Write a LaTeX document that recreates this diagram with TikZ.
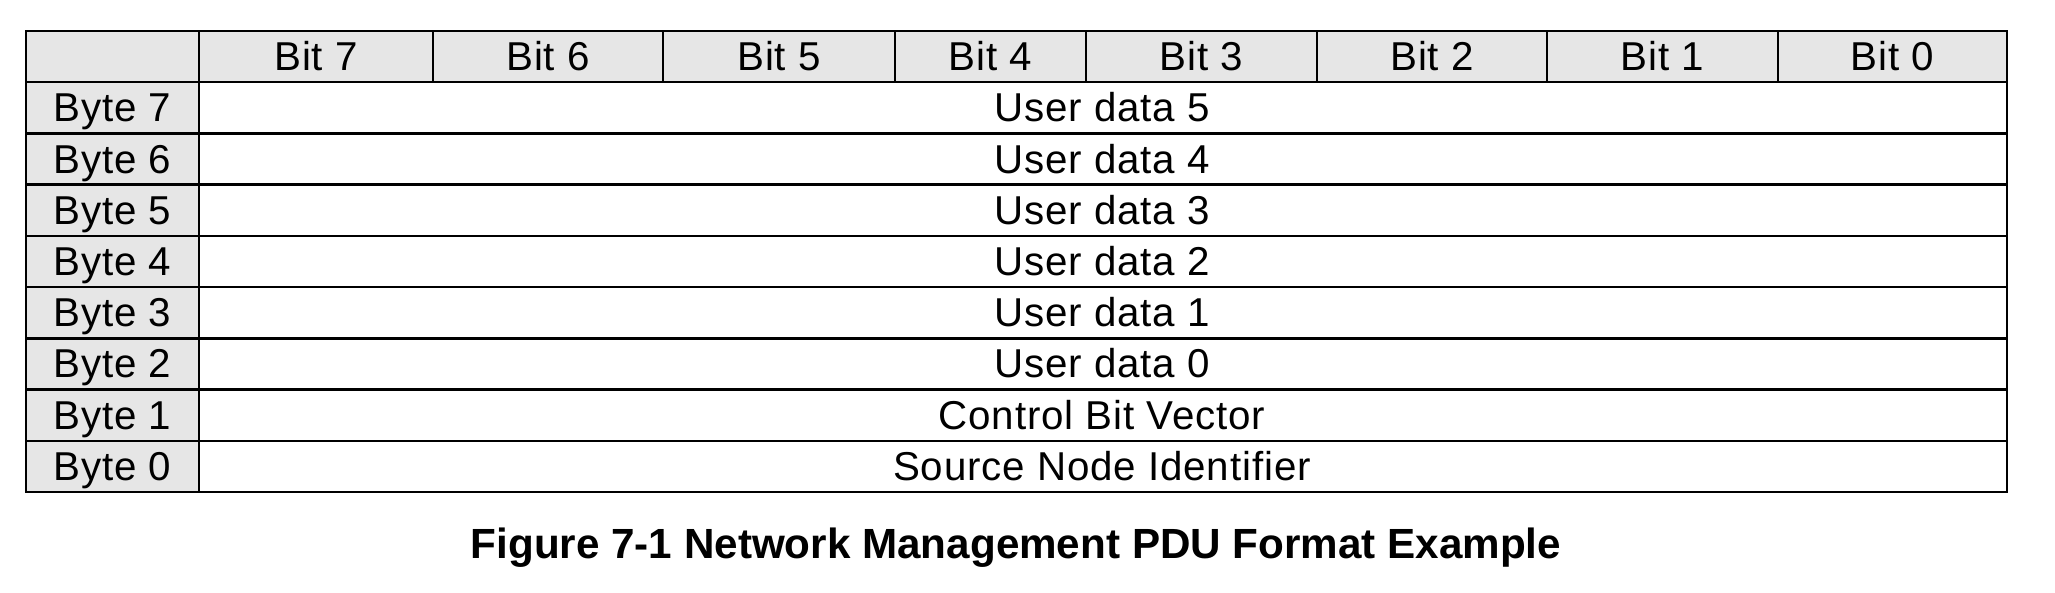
\documentclass[tikz,border=0pt]{standalone}
\usepackage{fontspec}
\setmainfont{Liberation Sans}
\newfontfamily\cellfont{Liberation Sans}[LetterSpace=2.2]
\definecolor{hdr}{RGB}{230,230,230}
\tikzset{
  celltext/.style={font=\cellfont\fontsize{40.3}{40}\selectfont, anchor=base, inner sep=0pt},
  captiontext/.style={font=\bfseries\fontsize{42.2}{42}\selectfont, anchor=base, inner sep=0pt},
  gridline/.style={line width=2.4pt, line cap=rect}
}
\begin{document}
\begin{tikzpicture}[x=1pt,y=1pt]
\useasboundingbox (0,0) rectangle (2055,-593);
\def\rh{51.22}
% shaded header row and column
\fill[hdr] (26,-31) rectangle (2007,-82.22);
\fill[hdr] (26,-31) rectangle (199,-492);
% horizontal lines
\foreach \i in {0,...,9}{
  \pgfmathsetmacro{\yy}{-31-\rh*\i}
  \draw[gridline] (26,\yy) -- (2007,\yy);
}
% vertical lines
\draw[gridline] (26,-31) -- (26,-492);
\draw[gridline] (199,-31) -- (199,-492);
\draw[gridline] (2007,-31) -- (2007,-492);
\foreach \xx in {433,663,895,1086,1317,1547,1778}{
  \draw[gridline] (\xx,-31) -- (\xx,-82.22);
}
% header labels
\foreach \xa/\xb/\n in {199/433/7,433/663/6,663/895/5,895/1086/4,1086/1317/3,1317/1547/2,1547/1778/1,1778/2007/0}{
  \pgfmathsetmacro{\cx}{(\xa+\xb)/2}
  \pgfmathsetmacro{\by}{-31-\rh*0.5-14}
  \node[celltext] (bit\n) at (\cx,\by) {Bit \n};
}
% row labels and contents
\foreach \k/\n/\t in {1/7/User data 5,2/6/User data 4,3/5/User data 3,4/4/User data 2,5/3/User data 1,6/2/User data 0,7/1/Control Bit Vector,8/0/Source Node Identifier}{
  \pgfmathsetmacro{\by}{-31-\rh*(\k+0.5)-14}
  \node[celltext] (byte\n) at (112.5,\by) {Byte \n};
  \node[celltext] (data\n) at (1102,\by) {\t};
}
\node[captiontext] (caption) at (1016,-558) {Figure 7-1 Network Management PDU Format Example};
\end{tikzpicture}
\end{document}
